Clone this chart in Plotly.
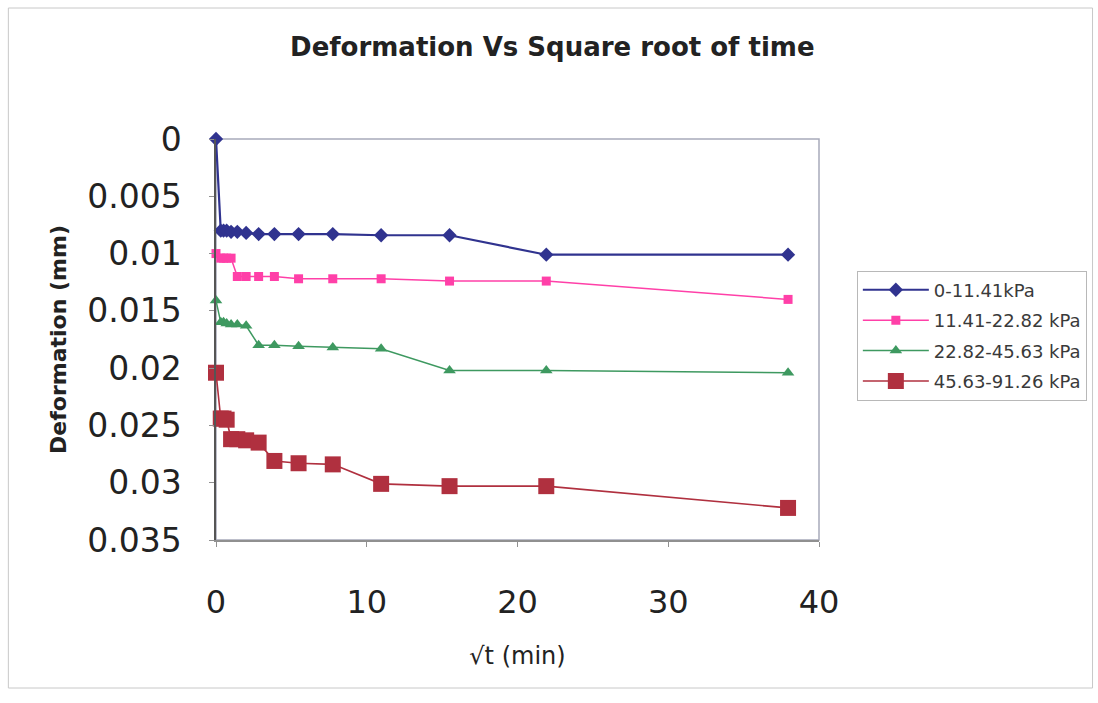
import plotly.graph_objects as go

# ---- data ----
sqrt_t = [0, 0.316, 0.5, 0.707, 1.0, 1.414, 2.0, 2.828, 3.873, 5.477, 7.746, 10.954, 15.492, 21.909, 37.947]

series_names = ["0-11.41kPa", "11.41-22.82 kPa", "22.82-45.63 kPa", "45.63-91.26 kPa"]
def_0_1141 = [0, 0.0080, 0.0080, 0.0080, 0.0081, 0.0081, 0.0082, 0.0083, 0.0083, 0.0083, 0.0083, 0.0084, 0.0084, 0.0101, 0.0101]
def_1141_2282 = [0.0100, 0.0104, 0.0104, 0.0104, 0.0104, 0.0120, 0.0120, 0.0120, 0.0120, 0.0122, 0.0122, 0.0122, 0.0124, 0.0124, 0.0140]
def_2282_4563 = [0.0141, 0.0160, 0.0160, 0.0161, 0.0162, 0.0162, 0.0163, 0.0180, 0.0180, 0.0181, 0.0182, 0.0183, 0.0202, 0.0202, 0.0204]
def_4563_9126 = [0.0204, 0.0244, 0.0244, 0.0245, 0.0262, 0.0262, 0.0263, 0.0265, 0.0281, 0.0283, 0.0284, 0.0301, 0.0303, 0.0303, 0.0322]

y_tick_vals = [0, 0.005, 0.01, 0.015, 0.02, 0.025, 0.03, 0.035]
y_tick_text = ["0", "0.005", "0.01", "0.015", "0.02", "0.025", "0.03", "0.035"]
x_tick_vals = [0, 10, 20, 30, 40]

# ---- styles ----
FONT = "DejaVu Sans"
styles = [
    dict(color="#30338f", symbol="diamond", size=11, width=2.2),
    dict(color="#ff40a8", symbol="square", size=9, width=1.5),
    dict(color="#3e9960", symbol="triangle-up", size=11, width=1.5),
    dict(color="#b0303f", symbol="square", size=16, width=1.6),
]
all_series = [def_0_1141, def_1141_2282, def_2282_4563, def_4563_9126]

fig = go.Figure()
for i, (name, ys, st) in enumerate(zip(series_names, all_series, styles)):
    fig.add_trace(go.Scatter(
        x=sqrt_t, y=ys, name=name, mode="lines+markers", legendgroup=f"g{i}",
        line=dict(color=st["color"], width=st["width"]),
        marker=dict(symbol=st["symbol"], size=st["size"], color=st["color"],
                    line=dict(color=st["color"], width=0)),
        cliponaxis=False,
    ))

fig.update_layout(
    width=1098, height=703,
    margin=dict(l=216, r=278, t=139, b=163),
    paper_bgcolor="white", plot_bgcolor="white",
    font=dict(family=FONT, color="#222222"),
    title=dict(text="<b>Deformation Vs Square root of time</b>",
               x=0.503, xanchor="center", y=0.933, yanchor="middle",
               font=dict(family=FONT, size=26, color="#222222")),
    showlegend=True,
    legend=dict(x=1.061, xanchor="left", y=0.672, yanchor="top",
                bgcolor="white", bordercolor="#b8b8b8", borderwidth=1,
                font=dict(family=FONT, size=18, color="#3a3a3a"),
                itemwidth=66, traceorder="grouped", tracegroupgap=4),
)

fig.update_xaxes(
    range=[0, 40], tickvals=x_tick_vals, showgrid=False, zeroline=False,
    showline=True, linecolor="#909090", linewidth=1.5,
    ticks="outside", ticklen=5, tickcolor="#909090",
    tickfont=dict(family=FONT, size=32, color="#222222"),
    ticklabelstandoff=28,
    title=dict(text="√t (min)", font=dict(family=FONT, size=24, color="#222222"), standoff=27),
)
fig.update_yaxes(
    range=[0.035, 0], tickvals=y_tick_vals, ticktext=y_tick_text,
    showgrid=False, zeroline=False,
    showline=True, linecolor="#555555", linewidth=1.5,
    ticks="outside", ticklen=5, tickcolor="#909090",
    tickfont=dict(family=FONT, size=33, color="#222222"),
    ticklabelstandoff=21,
    title=dict(text="<b>Deformation (mm)</b>", font=dict(family=FONT, size=22, color="#222222"), standoff=14),
)

# plot-area border (top/right)
fig.add_shape(type="rect", xref="paper", yref="paper", x0=0, x1=1, y0=0, y1=1,
              line=dict(color="#a8aabb", width=1.5), layer="below")
# outer chart border
fig.add_shape(type="rect", xref="paper", yref="paper",
              x0=(8 - 216) / 604, x1=(1094 - 216) / 604,
              y0=(540 - 688) / 401, y1=(540 - 8) / 401,
              line=dict(color="#c8c8c8", width=1), layer="below")

fig.write_html("out.html")
